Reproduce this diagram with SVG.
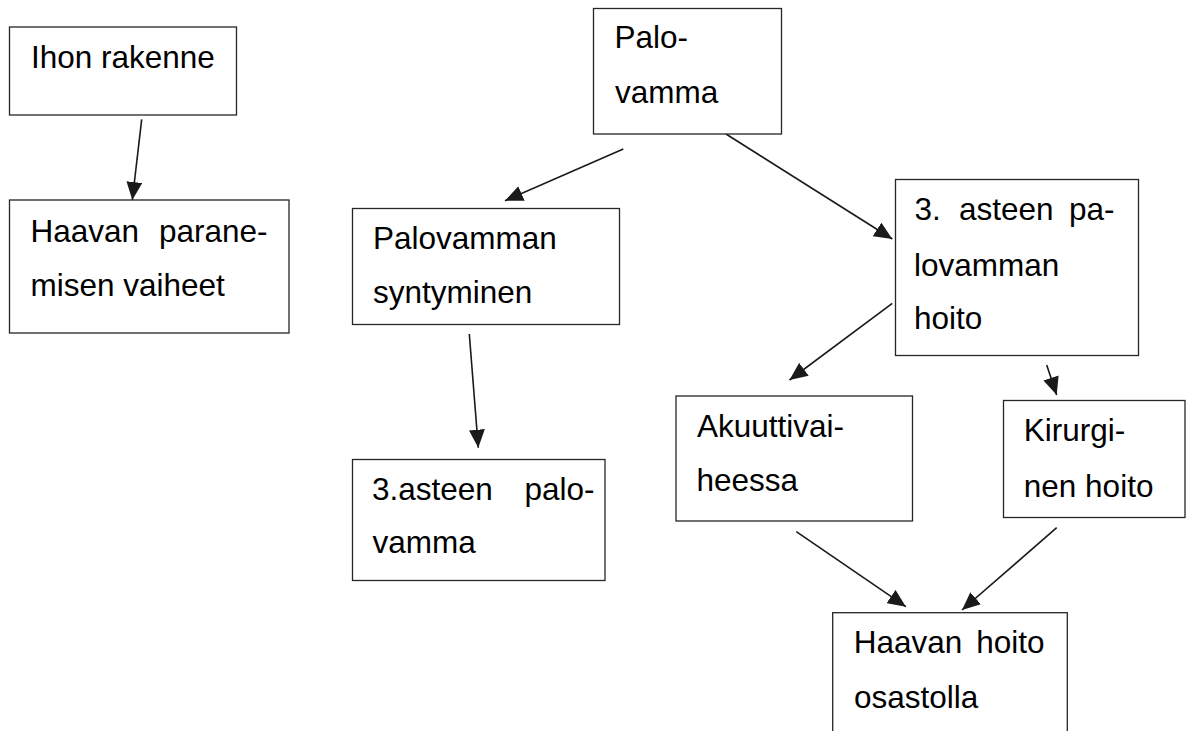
<svg xmlns="http://www.w3.org/2000/svg" width="1193" height="731" viewBox="0 0 1193 731">
<style>
.box{fill:#fff;stroke:#262626;stroke-width:1.3}
.t{font-family:"Liberation Sans",Arial,sans-serif;font-size:31.5px;fill:#000}
.c{stroke:#1a1a1a;stroke-width:1.6;fill:none;marker-end:url(#ah)}
</style>
<defs>
<marker id="ah" markerUnits="userSpaceOnUse" markerWidth="18" markerHeight="16" refX="18" refY="8" orient="auto">
<path d="M0,0 L18,8 L0,16 z" fill="#1a1a1a"/>
</marker>
</defs>
<rect width="1193" height="731" fill="#fff"/>
<g id="connectors">
<line class="c" x1="141.7" y1="119.3" x2="132.3" y2="200"/>
<line class="c" x1="623.3" y1="149" x2="505" y2="200.7"/>
<line class="c" x1="726" y1="134" x2="892.3" y2="239"/>
<line class="c" x1="469.3" y1="334" x2="478.3" y2="447.7"/>
<line class="c" x1="892.3" y1="303.3" x2="789.5" y2="380"/>
<line class="c" x1="1046.7" y1="365" x2="1056.7" y2="395"/>
<line class="c" x1="796.3" y1="531.7" x2="905.9" y2="606.7"/>
<line class="c" x1="1056.7" y1="527.7" x2="962" y2="610"/>
</g>
<g id="ihon">
<rect class="box" x="9.5" y="27" width="227" height="88"/>
<text class="t" x="31" y="68.3">Ihon rakenne</text>
</g>
<g id="haavan-paraneminen">
<rect class="box" x="9.5" y="200" width="279.5" height="133"/>
<text class="t" x="30.5" y="241.7">Haavan</text>
<text class="t" x="159" y="241.7">parane-</text>
<text class="t" x="30.5" y="296">misen vaiheet</text>
</g>
<g id="palovamma">
<rect class="box" x="593.5" y="8.5" width="188" height="125.5"/>
<text class="t" x="614.5" y="47.7">Palo-</text>
<text class="t" x="615" y="103.3">vamma</text>
</g>
<g id="syntyminen">
<rect class="box" x="352.5" y="208.5" width="267" height="116"/>
<text class="t" x="373" y="249">Palovamman</text>
<text class="t" x="373" y="303">syntyminen</text>
</g>
<g id="asteen-palovamma">
<rect class="box" x="352.5" y="459.5" width="252.5" height="121"/>
<text class="t" x="372" y="500">3.asteen</text>
<text class="t" x="524.5" y="500">palo-</text>
<text class="t" x="372.5" y="553.3">vamma</text>
</g>
<g id="hoito3">
<rect class="box" x="895.5" y="179.5" width="243" height="176"/>
<text class="t" x="914.5" y="220">3.</text>
<text class="t" x="959" y="220">asteen</text>
<text class="t" x="1069" y="220">pa-</text>
<text class="t" x="914" y="276">lovamman</text>
<text class="t" x="914" y="329">hoito</text>
</g>
<g id="akuutti">
<rect class="box" x="676" y="396" width="236.5" height="125"/>
<text class="t" x="697" y="437">Akuuttivai-</text>
<text class="t" x="696.5" y="491">heessa</text>
</g>
<g id="kirurginen">
<rect class="box" x="1003.5" y="400.5" width="181.5" height="117"/>
<text class="t" x="1023.8" y="441">Kirurgi-</text>
<text class="t" x="1023.8" y="496.7">nen hoito</text>
</g>
<g id="osastolla">
<rect class="box" x="832.7" y="612.7" width="234.6" height="130"/>
<text class="t" x="853.8" y="653.3">Haavan</text>
<text class="t" x="976.2" y="653.3">hoito</text>
<text class="t" x="854" y="708.3">osastolla</text>
</g>
</svg>
